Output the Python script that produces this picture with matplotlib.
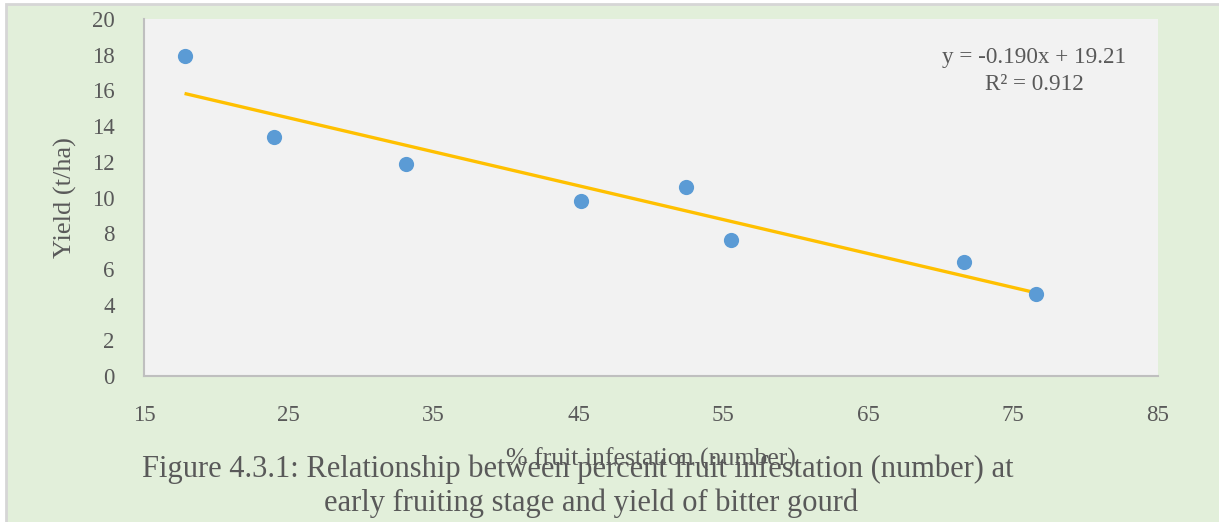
import matplotlib
matplotlib.use("Agg")
import matplotlib.pyplot as plt
import numpy as np
from matplotlib.patches import Rectangle

# Data
infestation = [17.8, 24.0, 33.1, 45.2, 52.4, 55.5, 71.6, 76.6]
yield_tha = [17.9, 13.4, 11.9, 9.8, 10.6, 7.6, 6.4, 4.6]
slope = -0.190
intercept = 19.21
r_squared = 0.912
x_ticks = [15, 25, 35, 45, 55, 65, 75, 85]
y_ticks = [0, 2, 4, 6, 8, 10, 12, 14, 16, 18, 20]

W, H = 1219, 522
fig = plt.figure(figsize=(W / 100, H / 100), dpi=100)
fig.patch.set_facecolor("white")
# green outer box with grey frame
bg = Rectangle((6 / W, -0.1), 1.2, (H - 4) / H + 0.1, transform=fig.transFigure,
               facecolor="#E2EFDA", edgecolor="#D6D6D6", linewidth=2.0, zorder=-10)
fig.patches.append(bg)

left, right, top, bottom = 144, 1158, 19, 376
ax = fig.add_axes([left / W, 1 - bottom / H, (right - left) / W, (bottom - top) / H])
ax.set_zorder(5)
ax.set_facecolor("#F2F2F2")
ax.set_xlim(15, 85)
ax.set_ylim(0, 20)
ax.set_xticks(x_ticks)
ax.set_yticks(y_ticks)
ax.set_xticklabels([str(v) for v in x_ticks])
ax.set_yticklabels([str(v) for v in y_ticks])
for s in ["top", "right"]:
    ax.spines[s].set_visible(False)
for s in ["left", "bottom"]:
    ax.spines[s].set_color("#BFBFBF")
    ax.spines[s].set_linewidth(1.5)
ax.tick_params(length=0, labelsize=16.5, labelcolor="#595959")
ax.tick_params(axis="x", pad=21)
ax.tick_params(axis="y", pad=21)
for lab in ax.get_xticklabels() + ax.get_yticklabels():
    lab.set_family("Liberation Serif")

xs = np.array(infestation)
xl = np.array([xs.min(), xs.max()])
ax.plot(xl, slope * xl + intercept, color="#FFC000", linewidth=2.4, zorder=2, solid_capstyle="butt")
ax.scatter(infestation, yield_tha, s=120, color="#5B9BD5", zorder=3, linewidths=0)

ax.text(1034 / W, 1 - 57 / H, f"y = {slope:.3f}x + {intercept:.2f}", transform=fig.transFigure,
        ha="center", va="center", fontsize=16.7, color="#595959", family="Liberation Serif")
ax.text(1034 / W, 1 - 85 / H, f"R² = {r_squared:.3f}", transform=fig.transFigure,
        ha="center", va="center", fontsize=16.7, color="#595959", family="Liberation Serif")

fig.text(65 / W, 1 - 198 / H, "Yield (t/ha)", rotation=90, ha="center", va="center",
         fontsize=19, color="#595959", family="Liberation Serif", zorder=6)
fig.text(651 / W, 1 - 459 / H, "% fruit infestation (number)", ha="center", va="center",
         fontsize=18.5, color="#595959", family="Liberation Serif", zorder=6)
fig.text(578 / W, 1 - 469 / H, "Figure 4.3.1: Relationship between percent fruit infestation (number) at",
         ha="center", va="center", fontsize=22, color="#595959", family="Liberation Serif", zorder=6)
fig.text(591 / W, 1 - 503 / H, "early fruiting stage and yield of bitter gourd",
         ha="center", va="center", fontsize=22, color="#595959", family="Liberation Serif", zorder=6)

fig.savefig("out.png", dpi=100)
